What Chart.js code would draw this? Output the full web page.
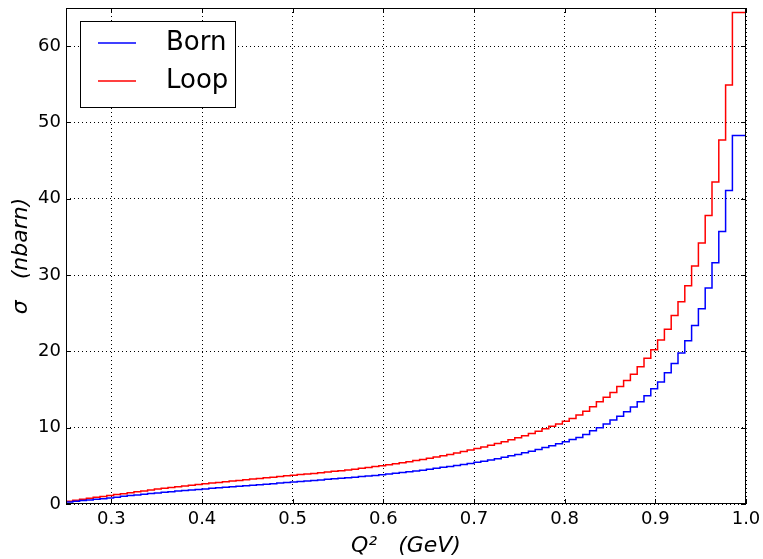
<!DOCTYPE html>
<html>
<head>
<meta charset="utf-8">
<script src="https://cdn.jsdelivr.net/npm/chart.js@4"></script>
<style>
  html, body { margin: 0; padding: 0; background: #fff; }
  #wrap { width: 763px; height: 559px; position: relative; }
</style>
</head>
<body>
<div id="wrap"><canvas id="sigmaChart"></canvas></div>
<script>
// histogram bins: 100 bins from 0.25 to 1.0
const xMin = 0.25;
const xMax = 1.0;
const nBins = 100;

const xTicks = [0.3, 0.4, 0.5, 0.6, 0.7, 0.8, 0.9, 1.0];
const yTicks = [0, 10, 20, 30, 40, 50, 60];

// Born cross section per bin (nbarn)
const born = [
  0.1, 0.25, 0.36, 0.45, 0.54, 0.62, 0.7, 0.8, 0.9, 1.0,
  1.1, 1.19, 1.28, 1.37, 1.45, 1.53, 1.61, 1.69, 1.77, 1.84,
  1.91, 1.98, 2.05, 2.12, 2.19, 2.26, 2.33, 2.39, 2.46, 2.53,
  2.6, 2.67, 2.74, 2.81, 2.88, 2.95, 3.02, 3.09, 3.16, 3.23,
  3.3, 3.37, 3.44, 3.51, 3.59, 3.67, 3.75, 3.84, 3.93, 4.02,
  4.12, 4.22, 4.32, 4.43, 4.55, 4.67, 4.8, 4.93, 5.06, 5.19,
  5.32, 5.46, 5.61, 5.77, 5.94, 6.12, 6.31, 6.5, 6.7, 6.92,
  7.15, 7.39, 7.64, 7.9, 8.17, 8.44, 8.72, 9.1, 9.6, 10.0,
  10.5, 11.0, 11.5, 12.1, 12.7, 13.4, 14.2, 15.1, 16.0, 17.2,
  18.4, 19.8, 21.4, 23.4, 25.6, 28.3, 31.6, 35.7, 41.1, 48.3
];

// Loop-corrected cross section per bin (nbarn)
const loop = [
  0.15, 0.35, 0.5, 0.63, 0.75, 0.87, 0.98, 1.1, 1.23, 1.35,
  1.47, 1.6, 1.72, 1.84, 1.95, 2.06, 2.16, 2.26, 2.36, 2.46,
  2.56, 2.65, 2.74, 2.83, 2.92, 3.0, 3.09, 3.17, 3.26, 3.34,
  3.43, 3.51, 3.6, 3.69, 3.77, 3.85, 3.93, 4.01, 4.1, 4.19,
  4.28, 4.37, 4.47, 4.57, 4.68, 4.79, 4.9, 5.02, 5.14, 5.27,
  5.4, 5.54, 5.69, 5.84, 6.0, 6.16, 6.33, 6.5, 6.68, 6.87,
  7.07, 7.27, 7.48, 7.7, 7.93, 8.17, 8.42, 8.68, 8.95, 9.24,
  9.54, 9.85, 10.18, 10.5, 10.85, 11.2, 11.65, 12.15, 12.75, 13.4,
  14.0, 14.6, 15.4, 16.2, 17.0, 18.0, 19.1, 20.2, 21.5, 22.9,
  24.7, 26.5, 28.6, 31.2, 34.2, 37.8, 42.2, 47.7, 54.9, 64.4
];

const binWidth = (xMax - xMin) / nBins;

// step outline like matplotlib histtype='step'
function stepPoints(vals) {
    let pts = [{ x: xMin, y: 0 }];
    vals.forEach((v, i) => pts.push({ x: xMin + i * binWidth, y: v }));
    pts.push({ x: xMax, y: vals[vals.length - 1] });
    return pts;
}

// box around the plot + inward ticks on every side
const framePlugin = {
    id: 'frame',
    afterDraw(chart) {
        const { ctx, chartArea: a, scales } = chart;
        ctx.save();
        ctx.strokeStyle = '#000';
        ctx.lineWidth = 1;
        ctx.setLineDash([]);
        ctx.strokeRect(a.left + 0.5, a.top + 0.5, a.right - a.left - 1, a.bottom - a.top - 1);
        ctx.beginPath();
        xTicks.forEach(t => {
            const px = Math.round(scales.x.getPixelForValue(t)) + 0.5;
            ctx.moveTo(px, a.bottom); ctx.lineTo(px, a.bottom - 5);
            ctx.moveTo(px, a.top); ctx.lineTo(px, a.top + 5);
        });
        yTicks.forEach(t => {
            const py = Math.round(scales.y.getPixelForValue(t)) + 0.5;
            ctx.moveTo(a.left, py); ctx.lineTo(a.left + 5, py);
            ctx.moveTo(a.right, py); ctx.lineTo(a.right - 5, py);
        });
        ctx.stroke();

        // legend box, upper left
        const lx = 80, ly = 21, lw = 155, lh = 86;
        ctx.fillStyle = '#fff';
        ctx.fillRect(lx, ly, lw, lh);
        ctx.strokeRect(lx + 0.5, ly + 0.5, lw, lh);
        ctx.font = '26px "DejaVu Sans"';
        ctx.textBaseline = 'middle';
        chart.data.datasets.forEach((ds, i) => {
            const y = i === 0 ? 43 : 81;
            ctx.strokeStyle = ds.borderColor;
            ctx.lineWidth = 1.5;
            ctx.beginPath();
            ctx.moveTo(98, y); ctx.lineTo(136, y);
            ctx.stroke();
            ctx.fillStyle = '#000';
            ctx.fillText(ds.label, 166, y);
        });
        ctx.restore();
    }
};

const ctx = document.getElementById('sigmaChart').getContext('2d');

const sigmaChart = new Chart(ctx, {
    type: 'line',
    data: {
        datasets: [{
            label: 'Born',
            data: stepPoints(born),
            borderColor: '#0000ff',
            borderWidth: 1.5,
            stepped: 'after',
            pointRadius: 0,
            fill: false
        }, {
            label: 'Loop',
            data: stepPoints(loop),
            borderColor: '#ff0000',
            borderWidth: 1.5,
            stepped: 'after',
            pointRadius: 0,
            fill: false
        }]
    },
    options: {
        responsive: true,
        maintainAspectRatio: false,
        animation: false,
        layout: { padding: { left: 0, top: 8, right: 17, bottom: 0 } },
        plugins: {
            legend: { display: false },
            tooltip: { enabled: false }
        },
        scales: {
            x: {
                type: 'linear',
                min: xMin,
                max: xMax,
                afterFit: (s) => { s.height = 55; s.paddingLeft = 0; s.paddingRight = 0; },
                afterBuildTicks: (s) => { s.ticks = xTicks.map(v => ({ value: v })); },
                ticks: {
                    color: '#000',
                    font: { family: 'DejaVu Sans', size: 18 },
                    padding: 5,
                    callback: (v) => v.toFixed(1)
                },
                grid: { color: '#000', lineWidth: 1, drawTicks: false },
                border: { display: false, dash: [1, 3] },
                title: {
                    display: true,
                    text: 'Q²   (GeV)',
                    color: '#000',
                    font: { family: 'DejaVu Sans', size: 22, style: 'italic' },
                    padding: { top: 0, bottom: 0 }
                }
            },
            y: {
                min: 0,
                max: 65,
                afterFit: (s) => { s.width = 66; s.paddingTop = 0; s.paddingBottom = 0; },
                afterBuildTicks: (s) => { s.ticks = yTicks.map(v => ({ value: v })); },
                ticks: {
                    color: '#000',
                    font: { family: 'DejaVu Sans', size: 18 },
                    padding: 5
                },
                grid: { color: '#000', lineWidth: 1, drawTicks: false },
                border: { display: false, dash: [1, 3] },
                title: {
                    display: true,
                    text: 'σ   (nbarn)',
                    color: '#000',
                    font: { family: 'DejaVu Sans', size: 22, style: 'italic' },
                    padding: { top: 8, bottom: 0 }
                }
            }
        }
    },
    plugins: [framePlugin]
});
</script>
</body>
</html>
